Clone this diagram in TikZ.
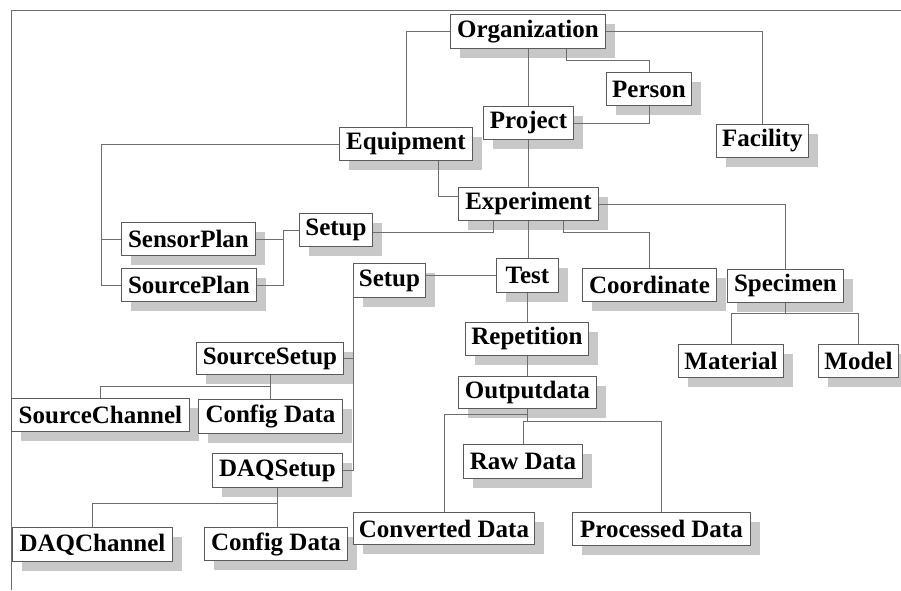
\documentclass[tikz,border=0pt]{standalone}
\usepackage{fontspec}
\setmainfont{Liberation Serif}
\usetikzlibrary{shadows}
\definecolor{shadowgray}{HTML}{C8C8C8}
\definecolor{edgegray}{HTML}{6E6E6E}
\definecolor{boxgray}{HTML}{5A5A5A}
\tikzset{
  box/.style={draw=boxgray, line width=0.9pt, fill=white, anchor=north west,
    inner sep=0pt, font=\fontsize{25}{28}\selectfont\bfseries,
    general shadow={fill=shadowgray, shadow xshift=9.5pt, shadow yshift=-9.5pt}},
  link/.style={draw=edgegray, line width=0.9pt},
  bz/.style 2 args={minimum width=#1pt, minimum height=#2pt}
}
\begin{document}
\begin{tikzpicture}[x=1pt, y=-1pt]
\useasboundingbox (0,0) rectangle (901,590);
% outer frame (top and left sides)
\draw[link] (11,590) -- (11,10) -- (901,10);

% entities
\node[box, bz={155}{34}] (org)      at (450,14)  {Organization};
\node[box, bz={85}{33}]  (person)   at (606,72)  {Person};
\node[box, bz={90}{33}]  (proj)     at (483,106) {Project};
\node[box, bz={92}{33}]  (fac)      at (716,124) {Facility};
\node[box, bz={133}{33}] (equip)    at (339,127) {Equipment};
\node[box, bz={140}{33}] (exper)    at (458,187) {Experiment};
\node[box, bz={73}{33}]  (setupA)   at (299,213) {Setup};
\node[box, bz={134}{33}] (senplan)  at (121,222) {SensorPlan};
\node[box, bz={135}{33}] (srcplan)  at (121,268) {SourcePlan};
\node[box, bz={72}{34}]  (setupB)   at (353,263) {Setup};
\node[box, bz={62}{34}]  (test)     at (496,258) {Test};
\node[box, bz={134}{33}] (coord)    at (582,268) {Coordinate};
\node[box, bz={116}{33}] (spec)     at (727,269) {Specimen};
\node[box, bz={123}{33}] (rep)      at (465,322) {Repetition};
\node[box, bz={105}{33}] (mat)      at (678,344) {Material};
\node[box, bz={80}{33}]  (model)    at (818,344) {Model};
\node[box, bz={138}{32}] (out)      at (458,376) {Outputdata};
\node[box, bz={147}{32}] (srcsetup) at (196,342) {SourceSetup};
\node[box, bz={178}{33}] (srcch)    at (11,398)  {SourceChannel};
\node[box, bz={144}{34}] (cfgA)     at (198,399) {Config Data};
\node[box, bz={130}{34}] (daq)      at (212,453) {DAQSetup};
\node[box, bz={160}{34}] (daqch)    at (12,527)  {DAQChannel};
\node[box, bz={143}{33}] (cfgB)     at (204,527) {Config Data};
\node[box, bz={119}{34}] (raw)      at (463,444) {Raw Data};
\node[box, bz={181}{32}] (conv)     at (353,512) {Converted Data};
\node[box, bz={178}{33}] (proc)     at (572,512) {Processed Data};

% helper bus lines
\coordinate (planbus) at (101,0);
\coordinate (setbus)  at (283,0);

% connectors
\draw[link] (org.west) -| (equip.north);
\draw[link] (org.south) -- (org.south |- proj.north);
\draw[link] ([xshift=38.5pt]org.south) |- ([yshift=12pt]person.north) -- (person.north);
\draw[link] (org.east) -| (fac.north);
\draw[link] (person.south) |- (proj.east);
\draw[link] (proj.south) -- (proj.south |- exper.north);
\draw[link] ([xshift=32.5pt]equip.south) |- ([yshift=7.5pt]exper.west);

\draw[link] (equip.west) -| (planbus |- srcplan.west) -- (srcplan.west);
\draw[link] (planbus |- senplan.west) -- (senplan.west);
\draw[link] (senplan.east) -- (setbus |- senplan.east);
\draw[link] (srcplan.east) -| (setbus |- setupA.west) -- (setupA.west);

\draw[link] ([xshift=-35pt]exper.south) |- ([yshift=-2.5pt]setupA.east);
\draw[link] (exper.south) -- (exper.south |- test.north);
\draw[link] ([xshift=35pt]exper.south) |- ([yshift=36pt]coord.north) -- (coord.north);
\draw[link] (exper.east) -| (spec.north);

\draw[link] (spec.south) -- ++(0,11);
\draw[link] (mat.north) |- ([yshift=-11pt]spec.south) -| (model.north);

\draw[link] (test.west) -- (setupB.east |- test.west);
\draw[link] (setupB.west) -- (setupB.west |- daq.east) -- (daq.east);
\draw[link] (srcsetup.east) -- (setupB.west |- srcsetup.east);

\draw[link] (srcsetup.south) -- (srcsetup.south |- cfgA.north);
\draw[link] (srcch.north) |- ([yshift=-12pt]srcsetup.south);
\draw[link] (daq.south) -- (daq.south |- cfgB.north);
\draw[link] (daqch.north) |- ([yshift=-16pt]daq.south);

\draw[link] (test.south) -- (test.south |- rep.north);
\draw[link] (rep.south) -- (rep.south |- out.north);

\draw[link] (out.south) -- ++(0,13);
\draw[link] (conv.north) |- ([yshift=-6pt]out.south);
\draw[link] (raw.north) |- ([yshift=-13pt]out.south) -| (proc.north);
\end{tikzpicture}
\end{document}
